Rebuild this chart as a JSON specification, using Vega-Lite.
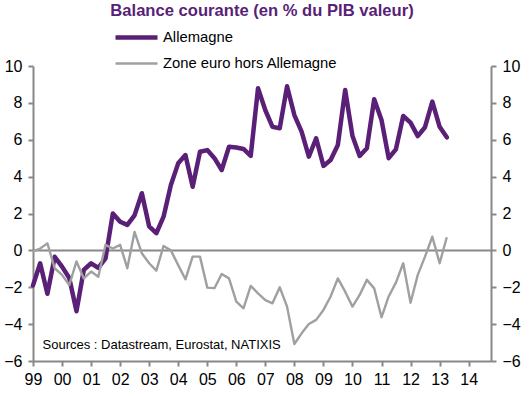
{
  "$schema": "https://vega.github.io/schema/vega-lite/v6.json",
  "width": 458,
  "height": 295,
  "autosize": "none",
  "padding": {"left": 33, "top": 66, "right": 38, "bottom": 35},
  "background": "white",
  "config": {
    "font": "Liberation Sans",
    "view": {"stroke": null},
    "axis": {"grid": false, "domainColor": "#888888", "domainWidth": 2, "tickColor": "#888888", "tickWidth": 2, "tickSize": 5, "labelFontSize": 16, "labelColor": "#000000", "title": null, "labelFont": "Liberation Sans"},
    "title": {"font": "Liberation Sans", "fontSize": 16.6, "fontWeight": "bold", "color": "#5a1f76", "anchor": "middle"}
  },
  "title": {"text": "Balance courante (en % du PIB valeur)", "dy": -4},
  "datasets": {
    "ca": [
      {"d": "1999-01-01", "de": -1.9, "ez": -0.05},
      {"d": "1999-04-01", "de": -0.7, "ez": 0.1},
      {"d": "1999-07-01", "de": -2.35, "ez": 0.38},
      {"d": "1999-10-01", "de": -0.35, "ez": -0.97},
      {"d": "2000-01-01", "de": -0.88, "ez": -1.33},
      {"d": "2000-04-01", "de": -1.5, "ez": -1.88},
      {"d": "2000-07-01", "de": -3.3, "ez": -0.6},
      {"d": "2000-10-01", "de": -1.06, "ez": -1.52},
      {"d": "2001-01-01", "de": -0.7, "ez": -1.15},
      {"d": "2001-04-01", "de": -0.95, "ez": -1.43},
      {"d": "2001-07-01", "de": -0.43, "ez": 0.3},
      {"d": "2001-10-01", "de": 2.0, "ez": 0.1},
      {"d": "2002-01-01", "de": 1.55, "ez": 0.3},
      {"d": "2002-04-01", "de": 1.38, "ez": -0.97},
      {"d": "2002-07-01", "de": 1.9, "ez": 1.0},
      {"d": "2002-10-01", "de": 3.1, "ez": -0.16},
      {"d": "2003-01-01", "de": 1.3, "ez": -0.7},
      {"d": "2003-04-01", "de": 0.93, "ez": -1.1},
      {"d": "2003-07-01", "de": 1.83, "ez": 0.24},
      {"d": "2003-10-01", "de": 3.55, "ez": 0.0},
      {"d": "2004-01-01", "de": 4.72, "ez": -0.8},
      {"d": "2004-04-01", "de": 5.17, "ez": -1.57},
      {"d": "2004-07-01", "de": 3.45, "ez": -0.34},
      {"d": "2004-10-01", "de": 5.35, "ez": -0.34},
      {"d": "2005-01-01", "de": 5.44, "ez": -2.02},
      {"d": "2005-04-01", "de": 5.0, "ez": -2.05},
      {"d": "2005-07-01", "de": 4.36, "ez": -1.28},
      {"d": "2005-10-01", "de": 5.62, "ez": -1.52},
      {"d": "2006-01-01", "de": 5.58, "ez": -2.78},
      {"d": "2006-04-01", "de": 5.5, "ez": -3.14},
      {"d": "2006-07-01", "de": 5.12, "ez": -1.93},
      {"d": "2006-10-01", "de": 8.79, "ez": -2.33},
      {"d": "2007-01-01", "de": 7.6, "ez": -2.7},
      {"d": "2007-04-01", "de": 6.7, "ez": -2.87},
      {"d": "2007-07-01", "de": 6.62, "ez": -2.0},
      {"d": "2007-10-01", "de": 8.9, "ez": -3.05},
      {"d": "2008-01-01", "de": 7.34, "ez": -5.08},
      {"d": "2008-04-01", "de": 6.44, "ez": -4.5},
      {"d": "2008-07-01", "de": 5.08, "ez": -3.99},
      {"d": "2008-10-01", "de": 6.08, "ez": -3.77},
      {"d": "2009-01-01", "de": 4.58, "ez": -3.23},
      {"d": "2009-04-01", "de": 4.9, "ez": -2.5},
      {"d": "2009-07-01", "de": 5.72, "ez": -1.52},
      {"d": "2009-10-01", "de": 8.7, "ez": -2.24},
      {"d": "2010-01-01", "de": 6.2, "ez": -3.05},
      {"d": "2010-04-01", "de": 5.12, "ez": -2.42},
      {"d": "2010-07-01", "de": 5.54, "ez": -1.6},
      {"d": "2010-10-01", "de": 8.2, "ez": -2.06},
      {"d": "2011-01-01", "de": 7.07, "ez": -3.63},
      {"d": "2011-04-01", "de": 5.0, "ez": -2.5},
      {"d": "2011-07-01", "de": 5.48, "ez": -1.75},
      {"d": "2011-10-01", "de": 7.29, "ez": -0.7},
      {"d": "2012-01-01", "de": 6.93, "ez": -2.84},
      {"d": "2012-04-01", "de": 6.2, "ez": -1.33},
      {"d": "2012-07-01", "de": 6.68, "ez": -0.34},
      {"d": "2012-10-01", "de": 8.07, "ez": 0.74},
      {"d": "2013-01-01", "de": 6.7, "ez": -0.7},
      {"d": "2013-04-01", "de": 6.13, "ez": 0.71}
    ]
  },
  "encoding": {
    "x": {"field": "d", "type": "temporal",
      "scale": {"domain": ["1999-01-01", "2014-10-09"], "nice": false},
      "axis": {"format": "%y", "tickCount": {"interval": "year", "step": 1}, "labelPadding": 5, "labelFlush": false, "labelOverlap": false}},
    "y": {"field": "v", "type": "quantitative",
      "scale": {"domain": [-6, 10], "nice": false, "zero": false}}
  },
  "layer": [
    {
      "data": {"values": [{"z": 0}]},
      "mark": {"type": "rule", "color": "#888888", "strokeWidth": 2},
      "encoding": {"x": null, "y": {"field": "z", "type": "quantitative", "axis": {"orient": "left", "values": [-6, -4, -2, 0, 2, 4, 6, 8, 10], "labelPadding": 6}}}
    },
    {
      "data": {"name": "ca"},
      "transform": [
        {"fold": ["de"], "as": ["k", "v"]},
        {"lookup": "k", "from": {"data": {"values": [{"k": "de", "serie": "Allemagne"}, {"k": "ez", "serie": "Zone euro hors Allemagne"}]}, "key": "k", "fields": ["serie"]}}
      ],
      "mark": {"type": "line", "strokeJoin": "round", "strokeCap": "round"},
      "encoding": {
        "color": {"field": "serie", "type": "nominal", "scale": {"domain": ["Allemagne", "Zone euro hors Allemagne"], "range": ["#5a1f76", "#a0a0a0"]},
          "legend": {"orient": "none", "legendX": 94, "legendY": -38, "title": null, "symbolType": "M-3,0H3", "symbolSize": 196, "labelFontSize": 14.8, "labelFont": "Liberation Sans", "labelColor": "#000000", "labelOffset": 17, "rowPadding": 8, "labelLimit": 0}},
        "strokeWidth": {"field": "serie", "type": "nominal", "scale": {"domain": ["Allemagne", "Zone euro hors Allemagne"], "range": [4.5, 2.4]},
          "legend": {"orient": "none", "legendX": 94, "legendY": -38, "title": null, "symbolType": "M-3,0H3", "symbolSize": 196, "labelFontSize": 14.8, "labelFont": "Liberation Sans", "labelColor": "#000000", "labelOffset": 17, "rowPadding": 8, "labelLimit": 0}},
        "y": {"field": "v", "type": "quantitative", "axis": {"orient": "right", "values": [-6, -4, -2, 0, 2, 4, 6, 8, 10], "labelPadding": 6}}
      }
    },
    {
      "data": {"name": "ca"},
      "transform": [
        {"fold": ["ez"], "as": ["k", "v"]},
        {"lookup": "k", "from": {"data": {"values": [{"k": "de", "serie": "Allemagne"}, {"k": "ez", "serie": "Zone euro hors Allemagne"}]}, "key": "k", "fields": ["serie"]}}
      ],
      "mark": {"type": "line", "strokeJoin": "round"},
      "encoding": {
        "color": {"field": "serie", "type": "nominal"},
        "strokeWidth": {"field": "serie", "type": "nominal"},
        "y": {"field": "v", "type": "quantitative", "axis": null}
      }
    },
    {
      "data": {"values": [{"src": "Sources : Datastream, Eurostat, NATIXIS", "sd": "1999-05-01", "sy": -5.13}]},
      "mark": {"type": "text", "align": "left", "baseline": "middle", "fontSize": 13, "font": "Liberation Sans", "color": "#000000"},
      "encoding": {
        "x": {"field": "sd", "type": "temporal"},
        "y": {"field": "sy", "type": "quantitative", "axis": null},
        "text": {"field": "src", "type": "nominal"}
      }
    }
  ],
  "resolve": {"axis": {"y": "independent"}}
}
